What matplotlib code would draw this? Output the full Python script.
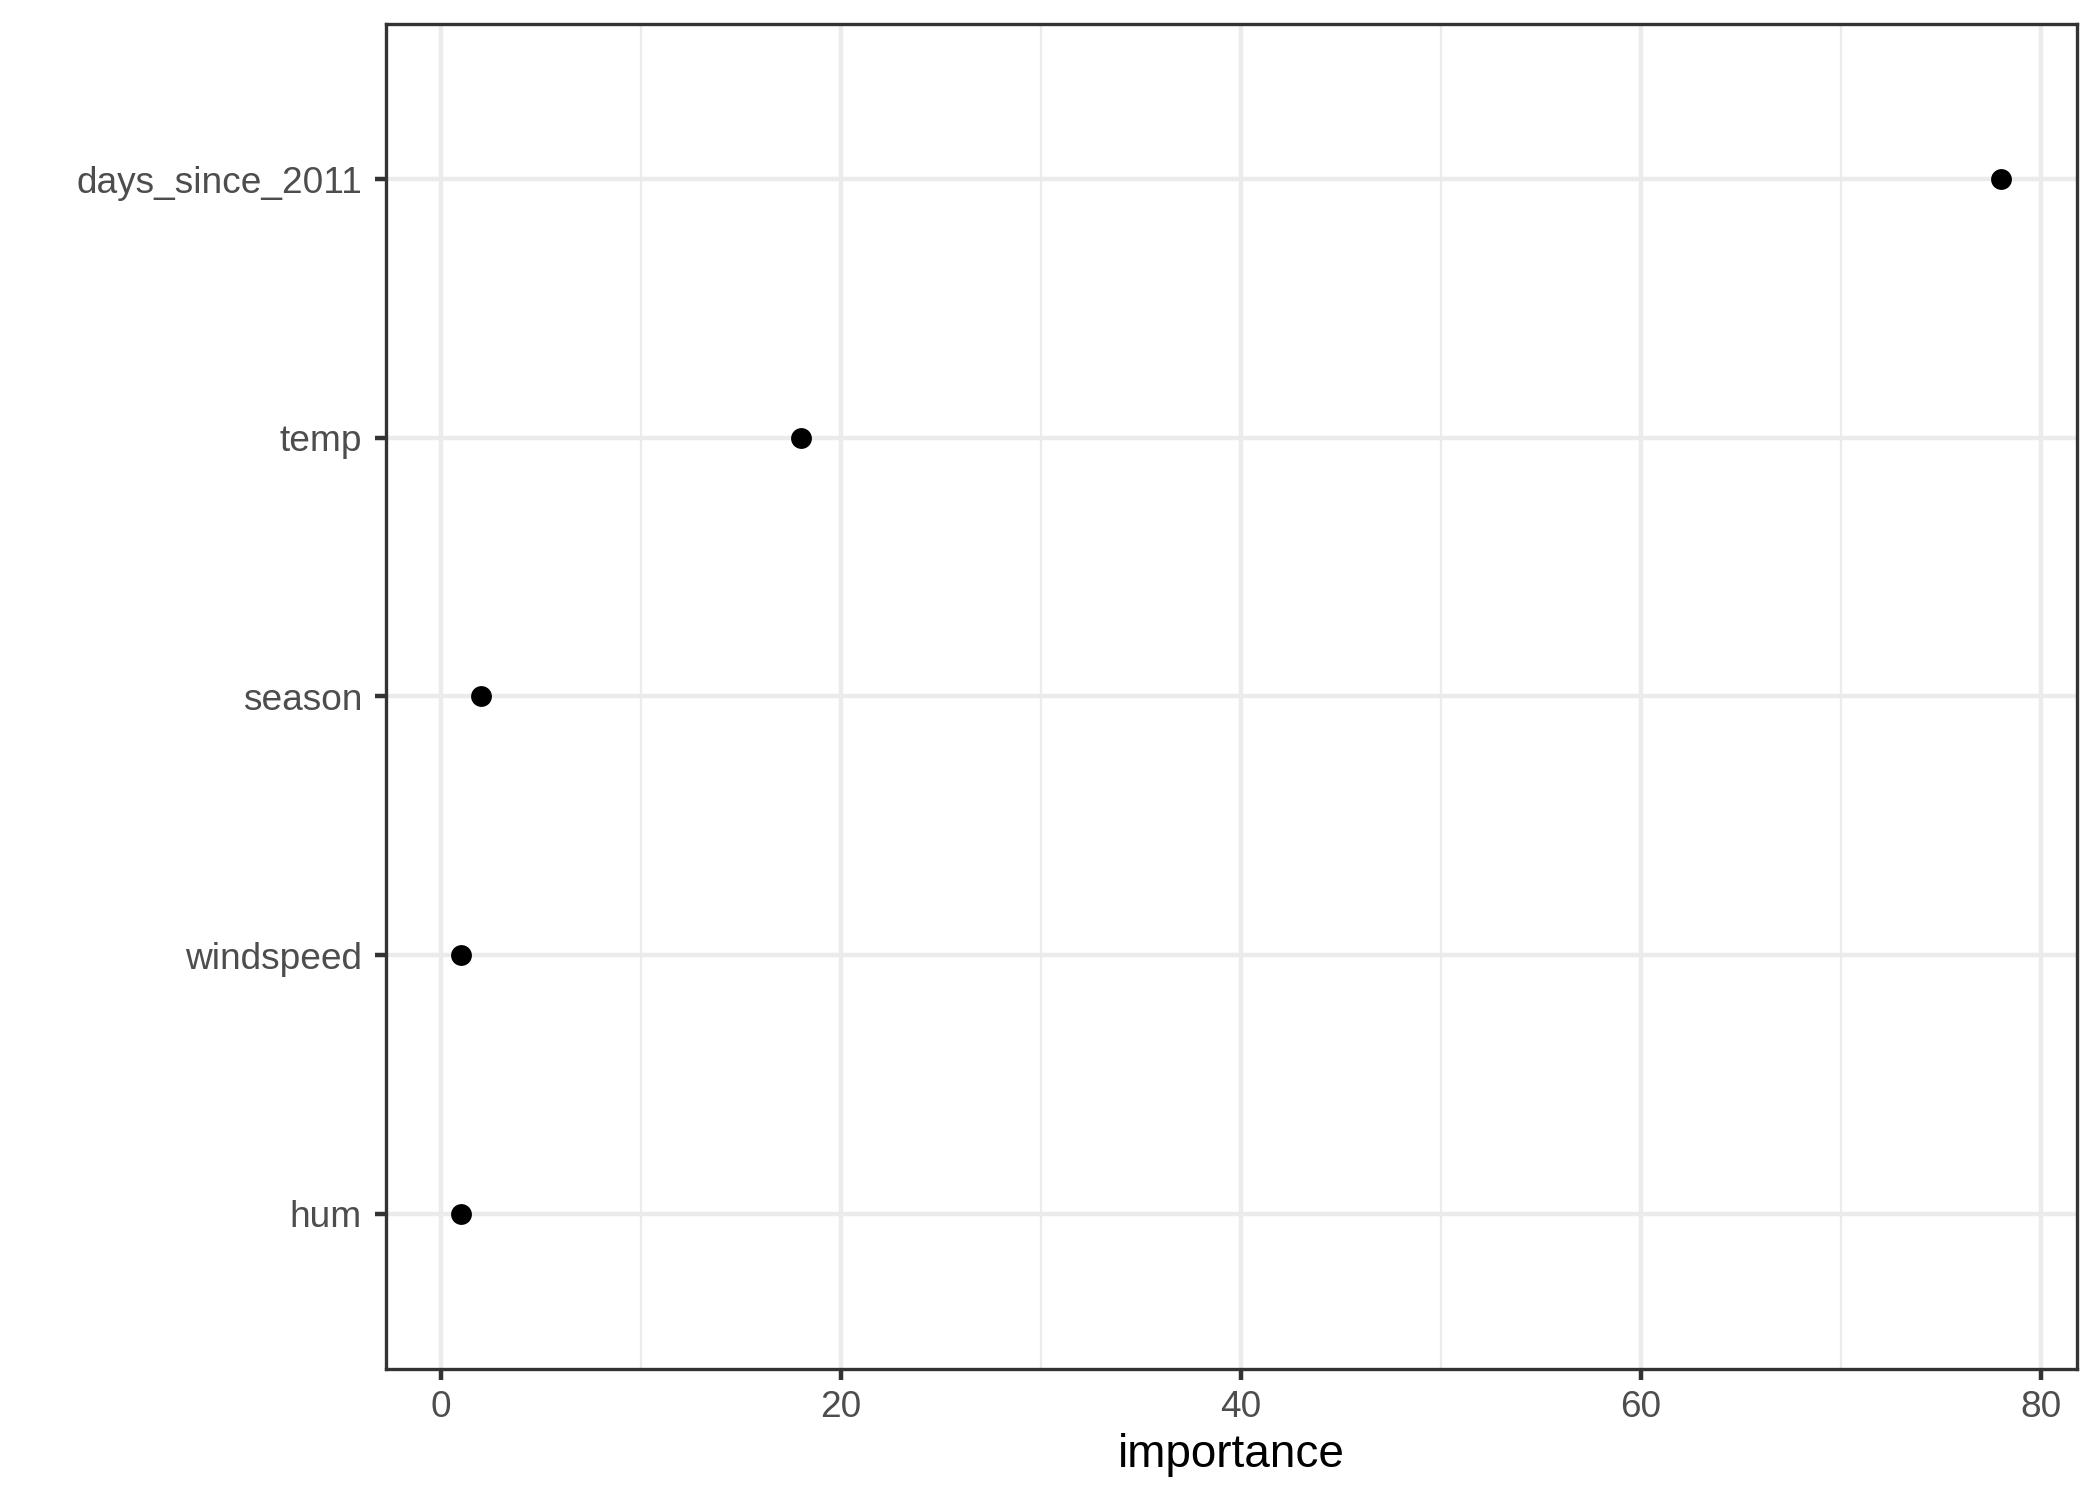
import matplotlib
matplotlib.use("Agg")
import matplotlib.pyplot as plt
from matplotlib.ticker import FixedLocator

features = ["hum", "windspeed", "season", "temp", "days_since_2011"]
importance = [1.0, 1.0, 2.0, 18.0, 78.0]
x_ticks = [0, 20, 40, 60, 80]
x_minor = [10, 30, 50, 70]

plt.rcParams['font.family'] = ['Liberation Sans', 'DejaVu Sans']

fig = plt.figure(figsize=(7, 5), dpi=300)
ax = fig.add_axes([385.5/2100, 1 - 1369/1500, (2076.5-385.5)/2100, (1369-24)/1500])

ypos = list(range(1, len(features) + 1))
ax.scatter(importance, ypos, s=5.0**2, color='black', zorder=3, linewidths=0)

ax.set_xlim(-2.76, 81.8)
ax.set_ylim(0.4, len(features) + 0.6)

ax.set_yticks(ypos)
ax.set_yticklabels(features)
ax.xaxis.set_major_locator(FixedLocator(x_ticks))
ax.xaxis.set_minor_locator(FixedLocator(x_minor))
ax.set_xticklabels([str(t) for t in x_ticks])

grid_c = '#EBEBEB'
ax.grid(which='major', color=grid_c, linewidth=1.07, zorder=0)
ax.grid(which='minor', axis='x', color=grid_c, linewidth=0.53, zorder=0)
ax.set_axisbelow(True)

for s in ax.spines.values():
    s.set_color('#333333')
    s.set_linewidth(0.8)

ax.tick_params(which='major', length=2.75, width=1.07, color='#333333',
               labelsize=8.9, labelcolor='#4D4D4D')
ax.tick_params(axis='y', which='major', pad=2.9)
ax.tick_params(axis='x', which='major', pad=2.2)
ax.tick_params(which='minor', length=0)

ax.set_xlabel('importance', fontsize=11, color='black', labelpad=1.9)

fig.savefig('out.png', dpi=300, facecolor='white')
